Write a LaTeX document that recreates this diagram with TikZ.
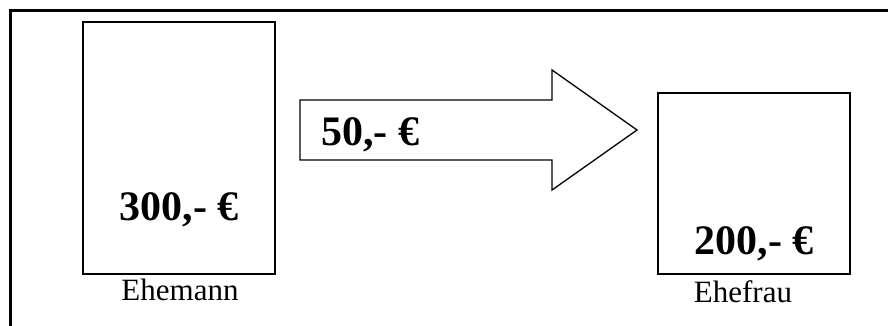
\documentclass[tikz,border=0pt]{standalone}
\usepackage{fontspec}
\setmainfont{Liberation Serif}
\usepackage{tikz}
\usetikzlibrary{positioning,calc}
\tikzstyle{konto} = [draw=black, line width=2pt, inner sep=0pt]
\tikzstyle{betrag} = [font=\fontsize{42}{46}\selectfont\bfseries, inner sep=0pt]
\tikzstyle{person} = [font=\fontsize{31}{34}\selectfont, inner sep=0pt]
\tikzstyle{pfeil} = [draw=black, line width=1.3pt, line join=miter]

\begin{document}
\begin{tikzpicture}[x=1pt, y=-1pt]
        \useasboundingbox (0,0) rectangle (888,326);
        \draw[line width=3pt] (10,326) -- (10,11) -- (888,11);
        \node[konto, minimum width=192pt, minimum height=252pt] (mann) at (179,148) {};
        \node[konto, minimum width=192pt, minimum height=181pt] (frau) at (754,183.5) {};
        \node[betrag, anchor=base] (betragmann) at (179,220) {300,- €};
        \node[betrag, anchor=base] (betragfrau) at (754,254) {200,- €};
        \node[person, anchor=base] (namemann) at (180,300) {Ehemann};
        \node[person, anchor=base] (namefrau) at (743,302) {Ehefrau};
        % Pfeil
        \coordinate (pa) at (300,100);
        \coordinate (pb) at (552,100);
        \coordinate (pc) at (552,70);
        \coordinate (spitze) at (637,130);
        \coordinate (pd) at (552,190);
        \coordinate (pe) at (552,160);
        \coordinate (pf) at (300,160);
        \draw[pfeil] (pa) -- (pb) -- (pc) -- (spitze) -- (pd) -- (pe) -- (pf) -- cycle;
        \node[betrag, anchor=base west] (uebertrag) at (321,145) {50,- €};
        % \draw (mann) -- (frau);
\end{tikzpicture}
\end{document}
